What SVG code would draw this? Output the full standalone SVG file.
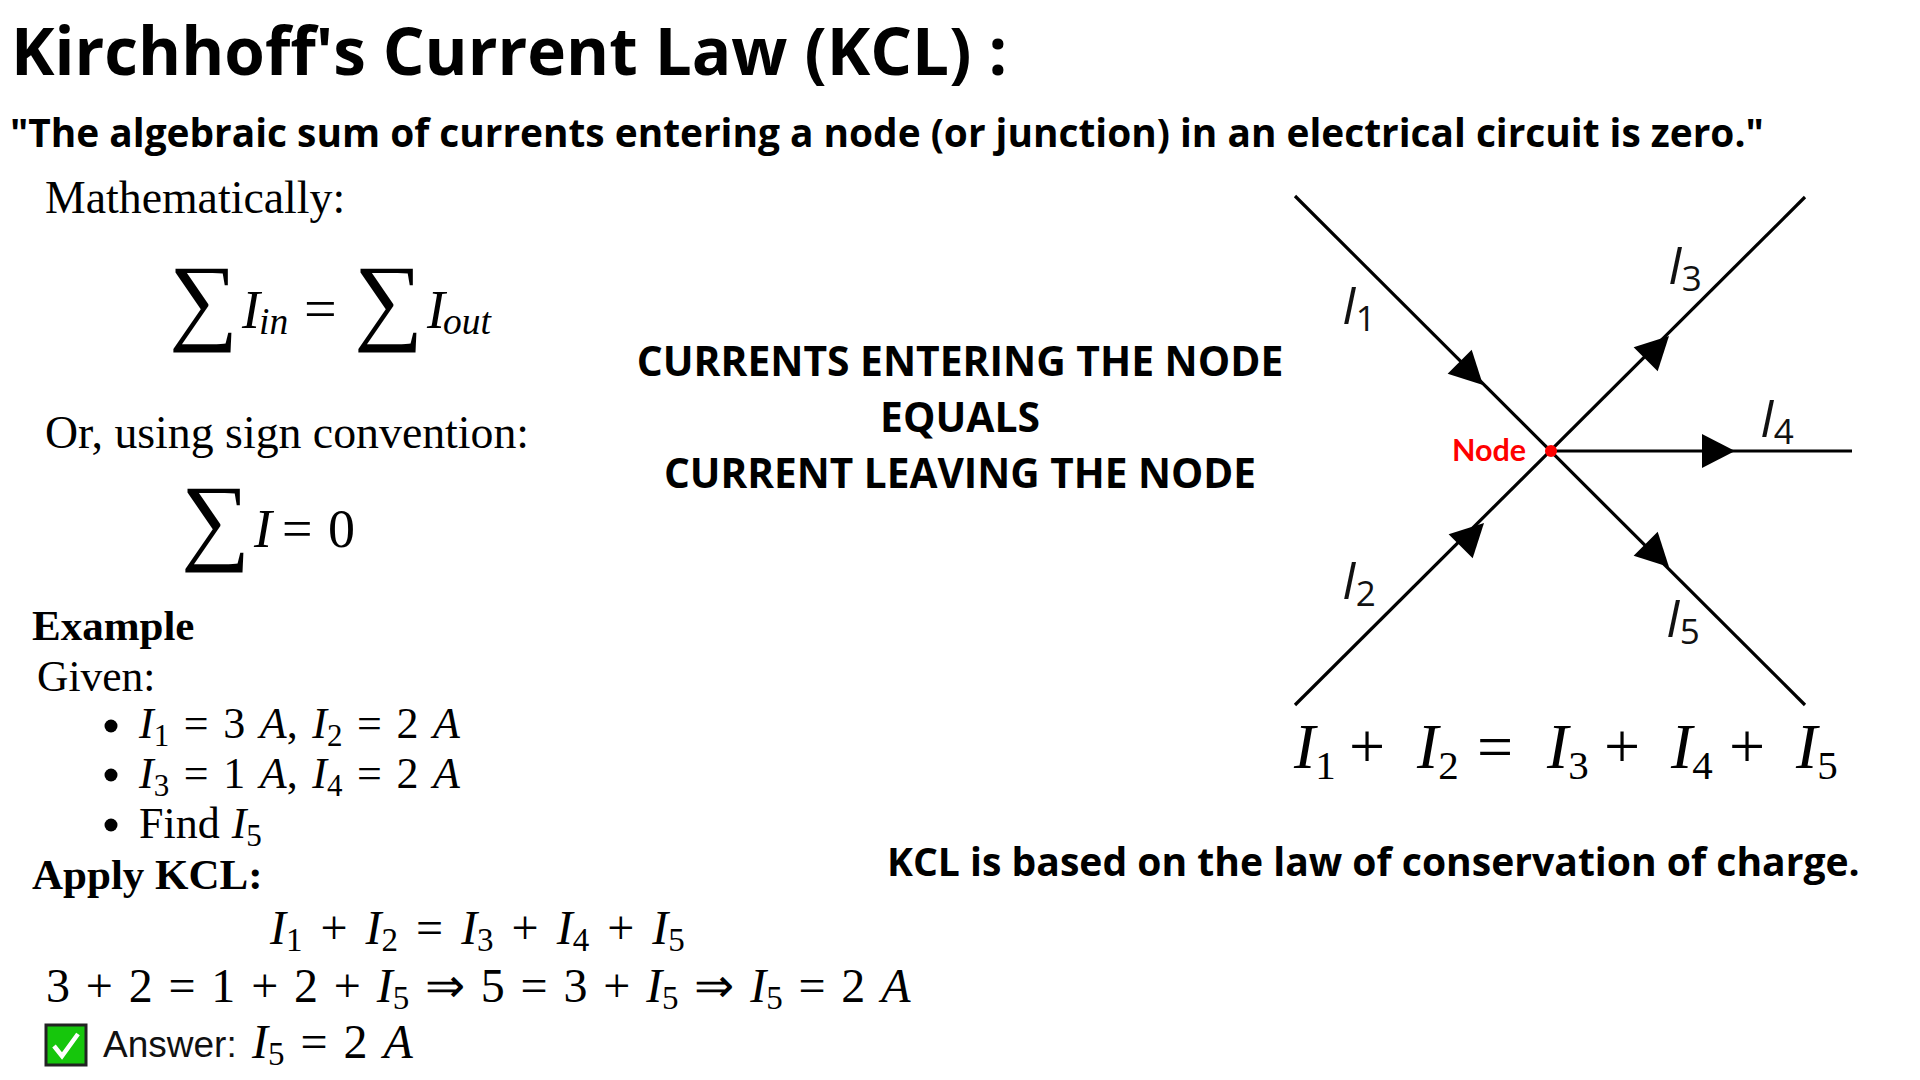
<svg xmlns="http://www.w3.org/2000/svg" width="1920" height="1080" viewBox="0 0 1920 1080">
<style>
.h{font-family:"Open Sans","Noto Sans",sans-serif;font-weight:700;fill:#000}
.s{font-family:"Liberation Serif",serif;fill:#000}
.i{font-style:italic}
.b{font-weight:700}
.w{stroke:#000;stroke-width:3.2;fill:none}
text{white-space:pre}
</style>
<defs><polygon id="ah" points="0,0 -33,-17 -33,17" fill="#000"/></defs>
<rect width="1920" height="1080" fill="#fff"/>
<g id="title">
<text class="h" x="11" y="75" font-size="65.6">Kirchhoff's Current Law (KCL) :</text>
<text class="h" x="10" y="147" font-size="38.85">"The algebraic sum of currents entering a node (or junction) in an electrical circuit is zero."</text>
</g>
<g id="formulas">
<text class="s" x="45" y="213" font-size="45.8">Mathematically:</text>
<text class="s" x="169" y="332" font-size="97">∑</text>
<text class="s i" x="242" y="328" font-size="54">I</text>
<text class="s i" x="259" y="334" font-size="37.5">in</text>
<text class="s" x="304" y="328" font-size="58">=</text>
<text class="s" x="354" y="332" font-size="97">∑</text>
<text class="s i" x="427" y="328" font-size="54">I</text>
<text class="s i" x="443" y="334" font-size="37.5">out</text>
<text class="s" x="45" y="448" font-size="45.8">Or, using sign convention:</text>
<text class="s" x="181" y="552" font-size="97">∑</text>
<text class="s i" x="254" y="547" font-size="54">I</text>
<text class="s" x="282" y="547" font-size="54" word-spacing="2">= 0</text>
</g>
<g id="example">
<text class="s b" x="32" y="640" font-size="43">Example</text>
<text class="s" x="37" y="691" font-size="43.5">Given:</text>
<circle cx="111" cy="726" r="6.5" fill="#000"/>
<circle cx="111" cy="775" r="6.5" fill="#000"/>
<circle cx="111" cy="825" r="6.5" fill="#000"/>
<text class="s" x="139" y="738" font-size="44" word-spacing="3.6"><tspan class="i">I</tspan><tspan font-size="31" dy="8">1</tspan><tspan dy="-8"> = 3 </tspan><tspan class="i">A</tspan>, <tspan class="i">I</tspan><tspan font-size="31" dy="8">2</tspan><tspan dy="-8"> = 2 </tspan><tspan class="i">A</tspan></text>
<text class="s" x="139" y="788" font-size="44" word-spacing="3.6"><tspan class="i">I</tspan><tspan font-size="31" dy="8">3</tspan><tspan dy="-8"> = 1 </tspan><tspan class="i">A</tspan>, <tspan class="i">I</tspan><tspan font-size="31" dy="8">4</tspan><tspan dy="-8"> = 2 </tspan><tspan class="i">A</tspan></text>
<text class="s" x="139" y="838" font-size="44" word-spacing="1">Find <tspan class="i">I</tspan><tspan font-size="31" dy="8">5</tspan></text>
<text class="s b" x="32" y="889" font-size="43">Apply KCL:</text>
<text class="s" x="270" y="944" font-size="48" word-spacing="6"><tspan class="i">I</tspan><tspan font-size="33" dy="7">1</tspan><tspan dy="-7"> + </tspan><tspan class="i">I</tspan><tspan font-size="33" dy="7">2</tspan><tspan dy="-7"> = </tspan><tspan class="i">I</tspan><tspan font-size="33" dy="7">3</tspan><tspan dy="-7"> + </tspan><tspan class="i">I</tspan><tspan font-size="33" dy="7">4</tspan><tspan dy="-7"> + </tspan><tspan class="i">I</tspan><tspan font-size="33" dy="7">5</tspan></text>
<text class="s" x="46" y="1002" font-size="48" word-spacing="3.8">3 + 2 = 1 + 2 + <tspan class="i">I</tspan><tspan font-size="33" dy="7">5</tspan><tspan dy="-7"> ⇒ 5 = 3 + </tspan><tspan class="i">I</tspan><tspan font-size="33" dy="7">5</tspan><tspan dy="-7"> ⇒ </tspan><tspan class="i">I</tspan><tspan font-size="33" dy="7">5</tspan><tspan dy="-7"> = 2 </tspan><tspan class="i">A</tspan></text>
<rect x="46" y="1025" width="40" height="40" fill="#16c60c" stroke="#222" stroke-width="3"/>
<path d="M54 1046 L62 1056 L78 1034" fill="none" stroke="#fff" stroke-width="4.5"/>
<text x="103" y="1057" font-size="37" font-family="Liberation Sans, sans-serif" fill="#111">Answer:</text>
<text class="s" x="252" y="1058" font-size="48" word-spacing="4"><tspan class="i">I</tspan><tspan font-size="33" dy="7">5</tspan><tspan dy="-7"> = 2 </tspan><tspan class="i">A</tspan></text>
</g>
<g id="caption">
<text class="h" x="960" y="376" font-size="40.8" text-anchor="middle">CURRENTS ENTERING THE NODE</text>
<text class="h" x="960" y="432" font-size="40.8" text-anchor="middle">EQUALS</text>
<text class="h" x="960" y="488" font-size="40.6" text-anchor="middle">CURRENT LEAVING THE NODE</text>
<text class="h" x="887" y="876" font-size="39.1">KCL is based on the law of conservation of charge.</text>
</g>
<g id="connectors">
<line class="w" x1="1295" y1="196" x2="1805" y2="705"/>
<line class="w" x1="1295" y1="705" x2="1805" y2="197"/>
<line class="w" x1="1551" y1="451" x2="1852" y2="451"/>
<use href="#ah" transform="translate(1483,385) rotate(45)"/>
<use href="#ah" transform="translate(1484,523) rotate(-45)"/>
<use href="#ah" transform="translate(1669,336) rotate(-45)"/>
<use href="#ah" transform="translate(1735,451)"/>
<use href="#ah" transform="translate(1669,567) rotate(45)"/>
</g>
<g id="node">
<circle cx="1551" cy="451" r="6" fill="#f00"/>
<text x="1452" y="461" font-size="30.5" font-weight="700" font-family="Lato, sans-serif" fill="#f00">Node</text>
</g>
<g id="labels" font-family="Open Sans, sans-serif" fill="#111">
<text x="1342" y="324" font-size="51" font-style="italic">I<tspan font-size="35" dy="7" font-style="normal">1</tspan></text>
<text x="1342" y="599" font-size="51" font-style="italic">I<tspan font-size="35" dy="7" font-style="normal">2</tspan></text>
<text x="1668" y="284" font-size="51" font-style="italic">I<tspan font-size="35" dy="7" font-style="normal">3</tspan></text>
<text x="1760" y="437" font-size="51" font-style="italic">I<tspan font-size="35" dy="7" font-style="normal">4</tspan></text>
<text x="1666" y="637" font-size="51" font-style="italic">I<tspan font-size="35" dy="7" font-style="normal">5</tspan></text>
</g>
<g id="equation" font-size="64">
<text class="s" y="768"><tspan class="i" x="1294">I</tspan><tspan font-size="41" dy="11">1</tspan><tspan x="1349" dy="-11">+</tspan><tspan class="i" x="1417">I</tspan><tspan font-size="41" dy="11">2</tspan><tspan x="1477" dy="-11">=</tspan><tspan class="i" x="1547">I</tspan><tspan font-size="41" dy="11">3</tspan><tspan x="1604" dy="-11">+</tspan><tspan class="i" x="1671">I</tspan><tspan font-size="41" dy="11">4</tspan><tspan x="1729" dy="-11">+</tspan><tspan class="i" x="1796">I</tspan><tspan font-size="41" dy="11">5</tspan></text>
</g>
</svg>
